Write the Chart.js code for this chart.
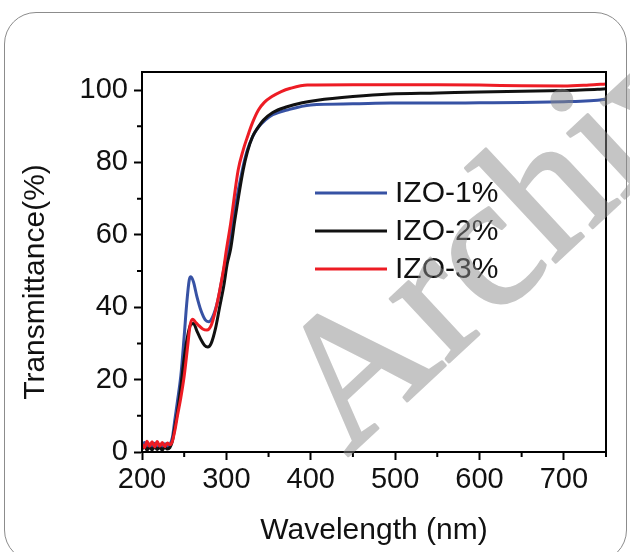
<!DOCTYPE html>
<html>
<head>
<meta charset="utf-8">
<script src="https://cdn.jsdelivr.net/npm/chart.js@4.4.0/dist/chart.umd.min.js"></script>
<style>
  html, body { margin: 0; padding: 0; background: #fff; }
  #wrap { position: relative; width: 630px; height: 552px; overflow: hidden; }
  #frame { position: absolute; left: 4px; top: 12px; width: 621px; height: 548px;
           border: 1.5px solid #8c8c8c; border-radius: 32px; }
  #chart { position: absolute; left: 0; top: 0; }
</style>
</head>
<body>
<div id="wrap">
  <div id="frame"></div>
  <canvas id="chart" width="630" height="552"></canvas>
</div>
<script>
//******************** data ********************
// IZO-1% (blue)
const wl1 = [200, 203, 206, 209, 212, 215, 218, 221, 224, 227, 230, 233, 236, 239, 242, 246, 250, 253, 256, 258, 261, 265, 270, 275, 279, 284, 290, 295, 300, 303, 310, 319, 325, 331, 338, 346, 355, 372, 400, 450, 495, 550, 600, 650, 700, 720, 740, 750];
const izo1 = [1.5, 2.6, 1.0, 2.2, 1.2, 2.4, 1.0, 2.0, 1.3, 2.3, 1.5, 2.0, 4, 9, 14, 21, 32, 41, 47.5, 48.4, 47, 43, 39, 36.5, 36, 37.5, 42, 48, 54, 56, 67, 78, 83.5, 87.1, 89.8, 91.7, 93.2, 94.5, 95.9, 96.2, 96.4, 96.4, 96.5, 96.6, 96.8, 96.9, 97.2, 97.5];
// IZO-2% (black)
const wl2 = [200, 203, 206, 209, 212, 215, 218, 221, 224, 227, 230, 233, 236, 239, 242, 246, 250, 254, 258, 261, 265, 270, 274, 278, 282, 287, 292, 297, 301, 305, 310, 320, 325, 331, 337, 344, 355, 372, 390, 408, 450, 494, 550, 600, 650, 700, 720, 740, 750];
const izo2 = [0.8, 1.6, 0.5, 1.4, 0.6, 1.5, 0.7, 1.3, 0.5, 1.4, 0.8, 1.2, 3, 7, 11, 18, 26, 32, 35.3, 35.5, 33.5, 31, 29.5, 29, 30, 34, 40, 46, 52, 56, 64, 78, 83, 87.1, 89.5, 91.7, 93.8, 95.4, 96.5, 97.2, 98.2, 98.9, 99.2, 99.5, 99.7, 99.9, 100.0, 100.2, 100.4];
// IZO-3% (red)
const wl3 = [200, 203, 206, 209, 212, 215, 218, 221, 224, 227, 230, 233, 236, 239, 242, 246, 250, 254, 257, 260, 263, 267, 272, 277, 282, 287, 292, 297, 300, 305, 314, 320, 325, 331, 338, 345, 354, 365, 376, 396, 450, 500, 550, 600, 650, 700, 730, 750];
const izo3 = [2.2, 1.2, 3.0, 1.6, 2.8, 1.4, 2.9, 1.6, 2.6, 1.5, 2.5, 2.0, 3, 6, 10, 15, 21, 29, 35, 36.7, 36, 35, 34, 33.7, 35, 39, 44.5, 51, 55.8, 63, 77.9, 83.5, 87.1, 91, 94.5, 96.6, 98.2, 99.6, 100.5, 101.4, 101.5, 101.5, 101.5, 101.4, 101.2, 101.1, 101.4, 101.7];

const seriesNames = ['IZO-1%', 'IZO-2%', 'IZO-3%'];
const seriesColors = ['#3752a4', '#111111', '#ed1c24'];
const xMajor = [200, 300, 400, 500, 600, 700];
const xMinor = [250, 350, 450, 550, 650, 750];
const yMajor = [0, 20, 40, 60, 80, 100];
const yMinor = [10, 30, 50, 70, 90];

//******************** helpers ********************
const toPoints = (xs, ys) => xs.map((v, i) => ({ x: v, y: ys[i] }));
const FONT = '"Liberation Sans", Arial, sans-serif';

const makeSet = (idx, xs, ys) => ({
  label: seriesNames[idx],
  data: toPoints(xs, ys),
  borderColor: seriesColors[idx],
  borderWidth: 3,
  pointRadius: 0,
  cubicInterpolationMode: 'monotone',
  fill: false,
  order: 3 - idx
});

// box, minor ticks, legend, y title and watermark
const extras = {
  id: 'extras',
  afterDatasetsDraw(chart) {
    const { ctx, chartArea: a, scales: { x, y } } = chart;
    ctx.save();
    ctx.strokeStyle = '#000';
    ctx.lineWidth = 2;
    ctx.strokeRect(a.left, a.top, a.right - a.left, a.bottom - a.top);
    ctx.beginPath();
    xMinor.forEach(v => {
      const px = x.getPixelForValue(v);
      ctx.moveTo(px, a.bottom);
      ctx.lineTo(px, a.bottom + 5);
    });
    yMinor.forEach(v => {
      const py = y.getPixelForValue(v);
      ctx.moveTo(a.left, py);
      ctx.lineTo(a.left - 5, py);
    });
    ctx.stroke();

    // legend
    ctx.font = '30px ' + FONT;
    ctx.textBaseline = 'middle';
    ctx.textAlign = 'left';
    seriesNames.forEach((name, i) => {
      const rowY = a.top + 121 + i * 38;
      ctx.strokeStyle = seriesColors[i];
      ctx.lineWidth = 3;
      ctx.beginPath();
      ctx.moveTo(a.left + 173, rowY);
      ctx.lineTo(a.left + 245, rowY);
      ctx.stroke();
      ctx.fillStyle = '#111';
      ctx.fillText(name, a.left + 253, rowY + 1);
    });
    ctx.restore();
  },
  afterDraw(chart) {
    const { ctx, canvas } = chart;
    ctx.save();
    ctx.translate(44, 282);
    ctx.rotate(-Math.PI / 2);
    ctx.font = '30px ' + FONT;
    ctx.fillStyle = '#111';
    ctx.textAlign = 'center';
    ctx.textBaseline = 'alphabetic';
    ctx.fillText('Transmittance(%)', 0, 0);
    ctx.restore();

    // watermark: drawn opaque off screen, laid over at half strength
    const off = document.createElement('canvas');
    off.width = canvas.width;
    off.height = canvas.height;
    const oc = off.getContext('2d');
    oc.translate(347, 457);
    oc.rotate(-43 * Math.PI / 180);
    oc.font = '188px "Liberation Serif", "Times New Roman", serif';
    oc.fillStyle = 'rgb(140,140,140)';
    oc.strokeStyle = 'rgb(140,140,140)';
    oc.lineWidth = 3;
    oc.lineJoin = 'round';
    oc.fillText('Archive of SID', 0, 0);
    oc.strokeText('Archive of SID', 0, 0);
    ctx.save();
    ctx.globalAlpha = 0.5;
    ctx.drawImage(off, 0, 0);
    ctx.restore();
  }
};

//******************** chart ********************
new Chart(document.getElementById('chart'), {
  type: 'line',
  data: {
    datasets: [makeSet(0, wl1, izo1), makeSet(1, wl2, izo2), makeSet(2, wl3, izo3)]
  },
  options: {
    responsive: false,
    animation: false,
    layout: { padding: { top: 72, right: 24, left: 0, bottom: 0 } },
    plugins: { legend: { display: false }, tooltip: { enabled: false } },
    scales: {
      x: {
        type: 'linear',
        min: 200,
        max: 750,
        afterBuildTicks: s => { s.ticks = xMajor.map(v => ({ value: v })); },
        afterFit: s => { s.height = 100; },
        ticks: { font: { size: 29, family: FONT }, color: '#111', padding: 3, maxRotation: 0 },
        grid: { drawOnChartArea: false, tickLength: 8, tickWidth: 2, tickColor: '#000' },
        border: { color: '#000', width: 2 },
        title: { display: true, text: 'Wavelength (nm)', color: '#111',
                 font: { size: 30, family: FONT }, padding: { top: 0, bottom: 3 } }
      },
      y: {
        min: 0,
        max: 105,
        afterBuildTicks: s => { s.ticks = yMajor.map(v => ({ value: v })); },
        afterFit: s => { s.width = 142; },
        ticks: { font: { size: 29, family: FONT }, color: '#111', padding: 6 },
        grid: { drawOnChartArea: false, tickLength: 8, tickWidth: 2, tickColor: '#000' },
        border: { color: '#000', width: 2 }
      }
    }
  },
  plugins: [extras]
});
</script>
</body>
</html>
